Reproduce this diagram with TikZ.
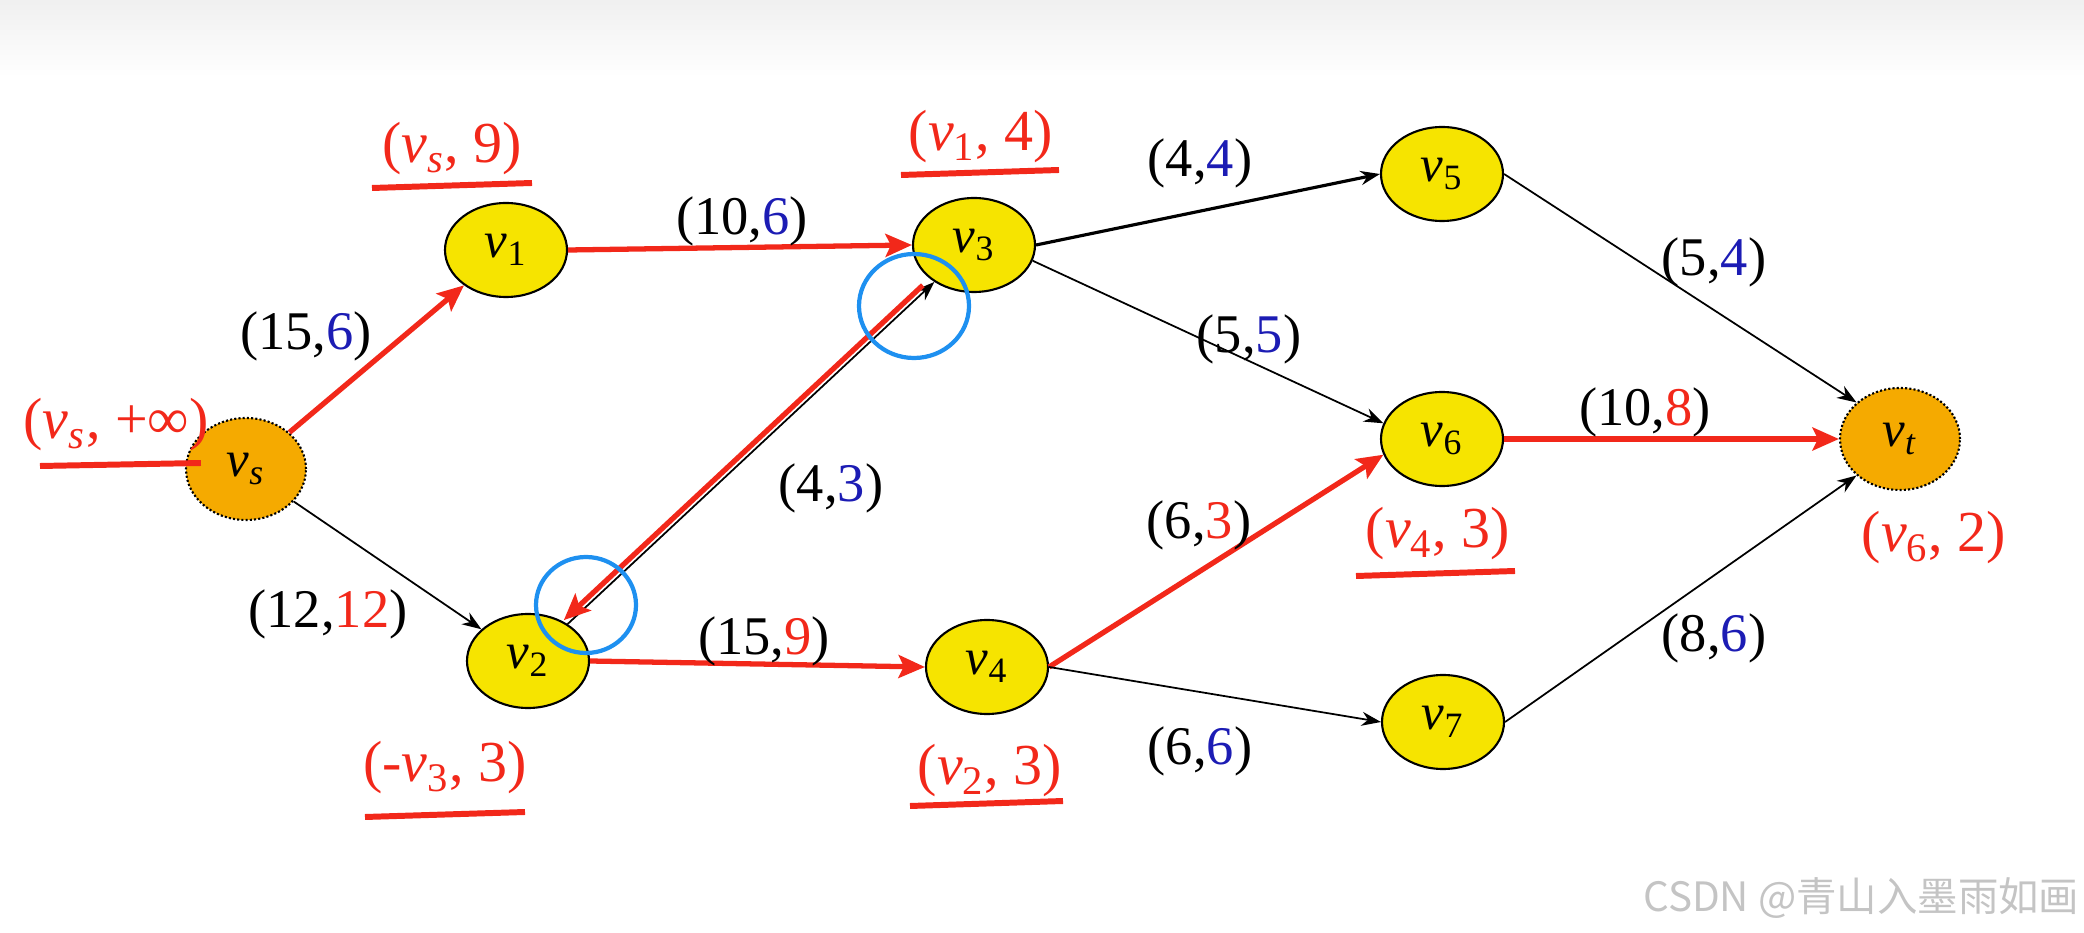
\documentclass[tikz,border=0pt]{standalone}
\usepackage{fontspec}
\setmainfont{Liberation Serif}
\newfontfamily\cjk{Noto Sans CJK SC}
\usetikzlibrary{arrows.meta, calc, shapes.geometric}
\definecolor{cyellow}{HTML}{F6E400}
\definecolor{corange}{HTML}{F5AA00}
\definecolor{cred}{HTML}{F2281A}
\definecolor{cblue}{HTML}{1C1CB4}
\definecolor{cring}{HTML}{1E90F0}
\definecolor{cmark}{HTML}{C4C4C4}
\newcommand{\vv}[1]{\textit{v}\textsubscript{#1}}
\newcommand{\bl}[1]{\textcolor{cblue}{#1}}
\newcommand{\rd}[1]{\textcolor{cred}{#1}}
\tikzset{
  vertex/.style={ellipse, draw=black, line width=0.6pt, fill=cyellow, minimum width=1.22cm, minimum height=0.94cm, inner sep=0pt, font=\fontsize{14.5}{16}\selectfont},
  term/.style={vertex, fill=corange, dash pattern=on 0.6pt off 0.6pt, minimum width=1.2cm, minimum height=1.02cm},
  elab/.style={font=\fontsize{15.5}{18}\selectfont, inner sep=1pt},
  tag/.style={text=cred, font=\fontsize{16.5}{19}\selectfont, inner sep=1pt},
  uline/.style={draw=cred, line width=1.7pt},
  flowarrow/.style={draw=cred, line width=1.5pt, -{Stealth[length=7.5pt, width=6.5pt, inset=1.5pt]}},
  restarrow/.style={draw=black, line width=0.5pt, -{Stealth[length=5.5pt, width=4pt]}},
  ring/.style={draw=cring, line width=1.2pt},
}

\begin{document}
\begin{tikzpicture}
  \useasboundingbox (0,0) rectangle (20.84,9.32);
  \shade[top color=black!6, bottom color=white] (0,8.55) rectangle (20.84,9.32);

  % vertices
  \node[term] (vs) at (2.46,4.63) {\vv{\textit{s}}};
  \node[vertex] (v1) at (5.06,6.82) {\vv{1}};
  \node[vertex] (v2) at (5.28,2.71) {\vv{2}};
  \node[vertex] (v3) at (9.74,6.87) {\vv{3}};
  \node[vertex] (v4) at (9.87,2.65) {\vv{4}};
  \node[vertex] (v5) at (14.42,7.58) {\vv{5}};
  \node[vertex] (v6) at (14.42,4.93) {\vv{6}};
  \node[vertex] (v7) at (14.43,2.10) {\vv{7}};
  \node[term] (vt) at (19.00,4.93) {\vv{\textit{t}}};

  % arcs
  \draw[flowarrow] (vs) -- (v1);
  \draw[restarrow] (vs) -- (v2);
  \draw[flowarrow] (v1.east) -- (v3.west);
  \draw[restarrow] (v2) -- (v3);
  \draw[flowarrow, shorten <=3pt, transform canvas={xshift=-1.1pt, yshift=1.1pt}] (v3) -- (v2);
  \draw[flowarrow] (v2.east) -- (v4.west);
  \draw[restarrow, line width=0.9pt] (v3.east) -- (v5.west);
  \draw[restarrow] (v3.345) -- (v6.165);
  \draw[flowarrow] (v4.east) -- (v6.195);
  \draw[restarrow] (v4.east) -- (v7.west);
  \draw[restarrow] (v5.east) -- (vt.140);
  \draw[flowarrow] (v6.east) -- (vt.west);
  \draw[restarrow] (v7.east) -- (vt.220);

  \coordinate (src) at (0.40,4.66);
  \draw[uline] (src) -- ([xshift=0.16cm, yshift=0.06cm]vs.west);

  % labels of the vertices
  \node[tag] (t-s) at (1.16,5.07) {(\vv{\textit{s}}, +∞)};
  \node[tag] (t-1) at (4.52,7.83) {(\vv{\textit{s}}, 9)};
  \node[tag] (t-3) at (9.81,7.95) {(\vv{1}, 4)};
  \node[tag] (t-2) at (4.45,1.64) {(-\vv{3}, 3)};
  \node[tag] (t-4) at (9.90,1.61) {(\vv{2}, 3)};
  \node[tag] (t-6) at (14.38,3.98) {(\vv{4}, 3)};
  \node[tag] (t-t) at (19.34,3.94) {(\vv{6}, 2)};
  \foreach \x/\y/\w in {3.72/7.44/1.60, 9.01/7.57/1.58, 3.65/1.15/1.60, 9.10/1.26/1.53, 13.56/3.56/1.59}
    \draw[uline] (\x,\y) -- ++(\w,0.05);

  % capacity, flow
  \node[elab] (e-s1) at (3.06,5.96) {(15,\bl{6})};
  \node[elab] (e-s2) at (3.28,3.18) {(12,\rd{12})};
  \node[elab] (e-13) at (7.42,7.11) {(10,\bl{6})};
  \node[elab] (e-23) at (8.31,4.44) {(4,\bl{3})};
  \node[elab] (e-24) at (7.64,2.91) {(15,\rd{9})};
  \node[elab] (e-35) at (12.00,7.69) {(4,\bl{4})};
  \node[elab] (e-36) at (12.49,5.93) {(5,\bl{5})};
  \node[elab] (e-46) at (11.99,4.07) {(6,\rd{3})};
  \node[elab] (e-47) at (12.00,1.81) {(6,\bl{6})};
  \node[elab] (e-6t) at (16.45,5.20) {(10,\rd{8})};
  \node[elab] (e-5t) at (17.14,6.70) {(5,\bl{4})};
  \node[elab] (e-7t) at (17.14,2.94) {(8,\bl{6})};

  \draw[ring] (9.14,6.26) ellipse [x radius=0.55, y radius=0.52];
  \draw[ring] (5.86,3.27) ellipse [x radius=0.50, y radius=0.48];

  \node[anchor=east, inner sep=0pt, text=cmark, font=\cjk\fontsize{11.5}{13}\selectfont] (wm) at (20.80,0.34) {CSDN @青山入墨雨如画};
\end{tikzpicture}
\end{document}
